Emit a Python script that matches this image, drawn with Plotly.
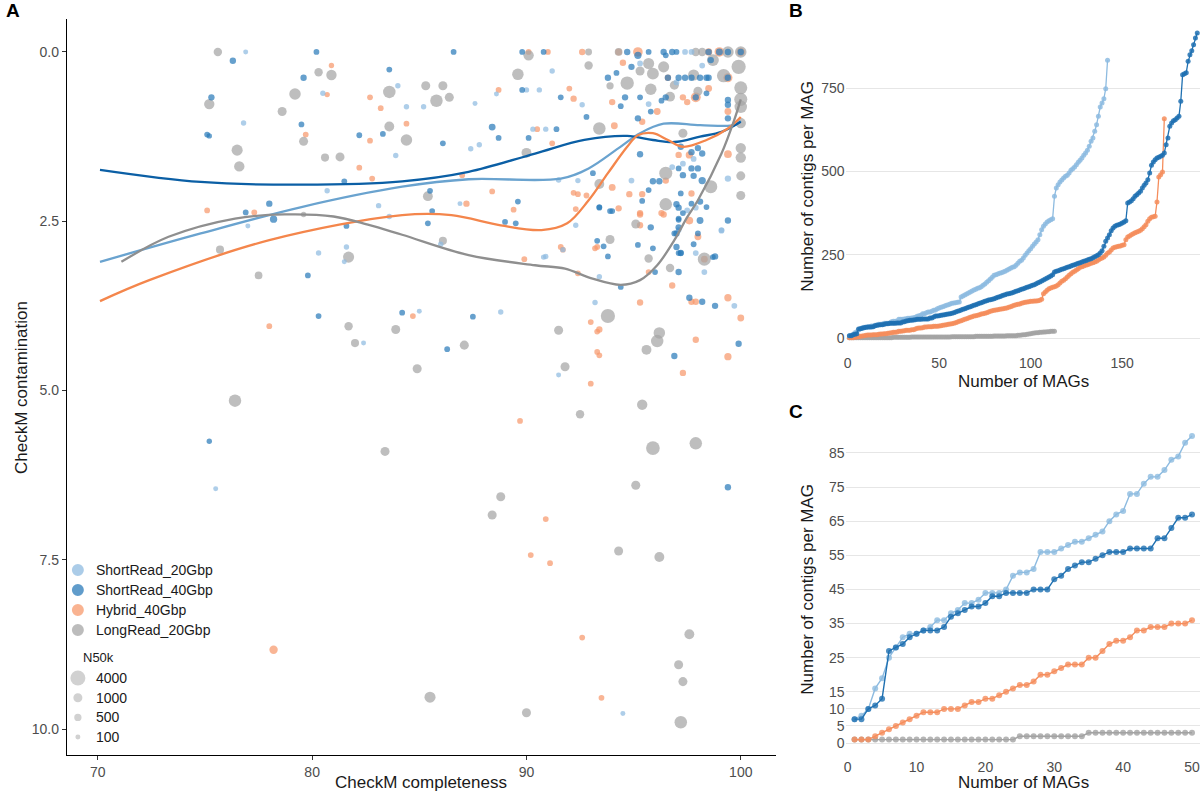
import math
import plotly.graph_objects as go

# ---------------- Panel A data: (completeness, contamination, N50k) ----------------
SR40_PTS = [
    (76.3, 0.13, 300), (80.2, 0.0, 200), (79.6, 0.38, 300), (75.3, 0.67, 300), (79.5, 1.07, 200),
    (75.1, 1.22, 200), (75.2, 1.24, 150), (82.2, 1.23, 200), (83.3, 1.21, 200), (83.6, 0.26, 200),
    (81.5, 1.91, 200), (78.0, 2.24, 300), (76.9, 2.37, 200), (78.2, 2.47, 500), (81.6, 2.57, 200),
    (79.8, 3.3, 200), (86.6, 0.0, 200), (89.8, 0.0, 200), (90.8, 0.0, 200), (94.7, 0.0, 300),
    (95.2, 0.05, 500), (95.7, 0.0, 200), (96.4, 0.0, 300), (96.5, 0.05, 200), (96.8, 0.0, 300),
    (97.0, 0.0, 200), (98.5, 0.0, 300), (99.0, 0.0, 400), (99.4, 0.0, 300), (100.0, 0.0, 300),
    (98.6, 0.12, 300), (93.8, 0.38, 300), (94.2, 0.31, 200), (96.6, 0.38, 300), (97.1, 0.38, 300),
    (97.4, 0.38, 300), (97.7, 0.38, 300), (98.1, 0.38, 300), (98.4, 0.38, 300), (98.5, 0.38, 300),
    (99.4, 0.38, 300), (94.9, 0.22, 300), (96.5, 0.67, 300), (96.3, 0.72, 200), (95.3, 0.67, 200),
    (94.6, 0.67, 300), (94.4, 0.8, 200), (95.8, 0.88, 200), (98.4, 0.61, 200), (99.4, 0.71, 300),
    (99.4, 0.78, 300), (99.4, 0.98, 300), (97.9, 0.67, 300), (95.2, 0.98, 300), (92.8, 0.96, 200),
    (91.6, 0.67, 200), (89.8, 0.56, 200), (86.1, 1.35, 200), (88.4, 1.11, 400), (88.7, 1.27, 200),
    (90.1, 1.27, 200), (91.4, 1.14, 200), (93.1, 1.79, 200), (85.5, 2.05, 200), (89.6, 2.21, 200),
    (85.6, 2.35, 200), (85.4, 2.53, 200), (89.0, 2.51, 200), (89.5, 2.53, 200), (93.4, 2.3, 200),
    (94.0, 2.35, 200), (95.3, 1.51, 300), (95.9, 1.91, 300), (96.2, 1.91, 300), (95.4, 2.2, 200),
    (98.2, 1.9, 500), (99.4, 2.49, 300), (98.7, 3.03, 200), (97.1, 2.46, 200), (97.1, 2.97, 200),
    (97.2, 1.4, 300), (97.7, 1.48, 300), (98.0, 1.42, 300), (98.2, 1.5, 300), (98.0, 1.72, 300),
    (97.7, 1.72, 300), (97.3, 1.82, 300), (97.1, 1.72, 200), (97.8, 1.83, 300), (97.2, 2.09, 200),
    (97.0, 2.25, 300), (97.7, 2.24, 200), (97.3, 2.38, 200), (97.1, 2.48, 200), (96.9, 2.68, 200),
    (97.2, 2.97, 200), (98.4, 2.29, 200), (98.0, 2.68, 200), (97.8, 2.84, 200), (98.1, 2.21, 300),
    (98.1, 2.49, 400), (93.3, 2.79, 200), (93.6, 2.87, 200), (93.8, 3.02, 200), (95.2, 2.85, 200),
    (95.9, 2.9, 200), (96.0, 3.25, 200), (97.0, 2.88, 300), (97.2, 2.97, 300), (97.1, 3.25, 300),
    (98.8, 3.02, 300), (95.8, 2.59, 300), (97.1, 2.59, 300), (97.0, 2.68, 300), (93.4, 2.29, 200),
    (93.9, 2.35, 200), (97.1, 2.3, 300), (95.7, 2.04, 200), (94.4, 3.47, 200), (87.5, 3.91, 200),
    (86.3, 4.39, 200), (97.6, 3.63, 300), (98.2, 3.69, 300), (98.8, 3.75, 300), (99.9, 4.31, 300),
    (96.9, 4.49, 300), (99.4, 6.43, 300), (84.2, 3.85, 200), (80.3, 3.9, 200), (75.2, 5.75, 150),
]

SR20_PTS = [
    (76.9, 0.0, 100), (80.5, 0.61, 150), (76.8, 1.05, 150), (84.0, 0.5, 150), (83.9, 1.53, 150),
    (80.7, 2.05, 150), (77.0, 2.57, 100), (83.1, 2.27, 150), (83.6, 2.43, 150), (80.3, 2.97, 150),
    (81.6, 2.88, 150), (81.5, 3.1, 100), (97.4, 0.0, 200), (97.7, 0.0, 200), (95.3, 0.17, 200),
    (91.2, 0.28, 150), (92.6, 0.78, 150), (90.6, 0.56, 150), (90.0, 0.56, 150), (88.6, 0.62, 100),
    (84.4, 0.81, 150), (85.2, 0.81, 150), (87.6, 0.76, 100), (87.8, 1.37, 150), (87.4, 1.43, 150),
    (90.3, 1.14, 150), (90.9, 1.14, 150), (91.5, 1.89, 150), (86.9, 2.24, 100), (92.3, 2.56, 150),
    (86.0, 2.84, 150), (90.8, 3.03, 150), (92.4, 1.9, 150), (94.9, 1.9, 200), (95.7, 0.77, 200),
    (96.8, 1.7, 200), (97.3, 1.65, 200), (97.5, 2.34, 200), (97.1, 2.63, 200), (99.1, 2.63, 200),
    (97.8, 1.58, 200), (99.4, 1.87, 300), (97.0, 0.45, 200), (98.2, 0.2, 200), (85.0, 3.83, 100),
    (88.8, 3.84, 150), (91.5, 4.77, 100), (93.2, 3.7, 150), (99.7, 3.75, 200), (90.9, 3.02, 150),
    (91.7, 2.92, 150), (93.4, 3.32, 150), (98.3, 3.25, 200), (99.1, 2.64, 200), (97.9, 2.3, 200),
    (97.9, 2.97, 200), (94.5, 9.77, 100), (82.4, 4.3, 100), (75.5, 6.45, 100),
]

HY_PTS = [
    (80.9, 0.2, 150), (80.7, 0.63, 150), (79.7, 1.22, 200), (82.2, 1.71, 200), (82.8, 1.87, 200),
    (82.7, 1.31, 200), (82.7, 0.67, 200), (83.2, 0.83, 200), (75.1, 2.34, 200), (77.3, 2.37, 200),
    (90.1, 0.0, 200), (91.0, 0.0, 200), (92.6, 0.0, 300), (94.3, 0.0, 400), (95.2, 0.0, 1200),
    (98.5, 0.0, 500), (99.0, 0.0, 1200), (100.0, 0.0, 800), (96.6, 0.38, 300), (99.4, 0.38, 1000),
    (94.5, 0.16, 300), (97.9, 0.67, 1300), (96.1, 0.88, 400), (94.0, 0.74, 300), (97.3, 0.67, 300),
    (97.5, 0.74, 300), (98.5, 0.54, 400), (99.4, 0.88, 400), (94.1, 1.09, 400), (95.4, 1.03, 300),
    (92.0, 0.54, 200), (92.2, 0.69, 300), (88.7, 0.56, 200), (84.4, 1.06, 200), (90.5, 1.14, 200),
    (91.2, 1.35, 200), (87.0, 1.82, 200), (88.4, 2.06, 200), (87.2, 2.24, 300), (89.4, 2.33, 200),
    (89.9, 3.06, 200), (91.7, 2.92, 200), (92.4, 2.1, 200), (92.8, 2.12, 200), (92.2, 2.08, 200),
    (94.0, 2.0, 400), (94.8, 2.1, 300), (95.4, 2.1, 300), (95.3, 2.38, 300), (96.5, 1.9, 300),
    (96.3, 2.38, 300), (95.3, 2.56, 300), (99.4, 1.51, 600), (98.3, 3.06, 400), (97.1, 1.52, 300),
    (97.6, 1.52, 500), (97.7, 2.09, 300), (98.0, 2.73, 400), (97.6, 2.49, 600), (92.3, 2.32, 200),
    (91.6, 2.88, 200), (93.2, 2.9, 200), (93.3, 2.88, 200), (92.4, 3.27, 200), (95.7, 3.25, 200),
    (96.4, 2.4, 300), (95.3, 2.4, 300), (94.3, 2.31, 300), (84.7, 3.9, 200), (93.0, 3.99, 200),
    (93.3, 4.13, 200), (93.3, 4.43, 200), (93.4, 4.48, 200), (93.0, 4.9, 200), (95.3, 3.7, 300),
    (96.8, 3.45, 300), (97.7, 3.69, 300), (97.9, 3.69, 300), (99.4, 3.63, 500), (100.0, 3.93, 400),
    (97.9, 4.25, 300), (99.4, 4.5, 500), (97.3, 4.74, 300), (89.7, 5.45, 200), (90.9, 6.9, 200),
    (90.2, 7.43, 200), (91.1, 7.55, 200), (93.4, 4.1, 300), (78.2, 8.83, 800), (93.5, 9.54, 200),
    (92.6, 8.65, 200), (78.0, 4.05, 200),
]

LR_PTS = [
    (75.6, 0.0, 800), (80.3, 0.3, 800), (80.9, 0.34, 1500), (79.2, 0.62, 2000), (75.2, 0.77, 1500),
    (78.6, 0.88, 1000), (79.6, 1.32, 1000), (76.5, 1.45, 1800), (76.6, 1.69, 1500), (80.6, 1.56, 700),
    (81.3, 1.55, 1000), (83.6, 1.1, 1300), (83.6, 0.59, 2500), (79.6, 2.4, 150), (75.7, 2.92, 700),
    (81.7, 3.03, 1800), (77.5, 3.3, 600), (90.1, 0.05, 1500), (92.9, 0.0, 400), (94.3, 0.0, 600),
    (97.9, 0.0, 800), (98.2, 0.0, 800), (99.4, 0.0, 2000), (100.0, 0.0, 2000), (98.7, 0.12, 2200),
    (99.9, 0.22, 3500), (99.2, 0.35, 3000), (93.9, 0.5, 500), (94.7, 0.46, 3000), (96.9, 0.49, 1000),
    (97.8, 0.34, 1800), (95.7, 0.17, 1800), (95.9, 0.32, 2200), (96.4, 0.22, 1800), (95.3, 0.28, 1000),
    (98.0, 0.58, 1000), (95.8, 0.55, 2000), (96.7, 0.66, 1300), (100.0, 0.53, 2800), (100.0, 0.7, 2800),
    (100.0, 0.81, 2500), (100.0, 1.05, 1500), (93.4, 1.13, 2500), (92.9, 0.2, 800), (89.6, 0.33, 2000),
    (85.3, 0.5, 1000), (86.1, 0.5, 1000), (85.8, 0.72, 2500), (86.4, 0.67, 1000), (84.4, 1.3, 2000),
    (90.0, 1.49, 1300), (85.4, 2.13, 1300), (86.1, 2.79, 700), (93.9, 2.77, 1000), (93.4, 1.95, 1300),
    (96.5, 1.79, 2800), (96.5, 2.25, 2500), (95.1, 2.54, 1000), (98.6, 1.99, 2800), (100.0, 1.42, 1500),
    (100.0, 1.56, 1500), (100.0, 1.83, 1000), (100.0, 2.12, 1000), (98.3, 3.06, 2800), (95.7, 3.05, 800),
    (96.7, 3.19, 800), (97.3, 1.2, 1000), (87.1, 4.33, 1000), (84.9, 4.68, 1000), (91.5, 4.11, 1000),
    (91.8, 4.65, 1000), (93.8, 3.9, 3500), (96.2, 4.15, 2000), (96.1, 4.27, 2500), (95.6, 4.4, 1300),
    (95.4, 5.21, 1500), (92.5, 5.35, 800), (95.9, 5.85, 3200), (97.9, 5.78, 2500), (95.1, 6.4, 1000),
    (88.8, 6.57, 1000), (88.4, 6.84, 1000), (94.3, 7.37, 1000), (96.2, 7.46, 1300), (85.5, 9.53, 1800),
    (90.0, 9.76, 1000), (97.2, 9.9, 2500), (97.6, 8.6, 1300), (97.1, 9.05, 1000), (97.3, 9.3, 1000),
    (76.4, 5.15, 2500), (83.4, 5.9, 1000), (81.7, 4.05, 800), (83.9, 4.1, 1000), (82.0, 4.3, 700),
]

# Smoothed trend lines
SM_SR20_X = [70.1, 74.8, 79.5, 84.2, 87.3, 91.6, 92.9, 94.3, 95.3, 96.4, 98.1, 99.7, 100.0]
SM_SR20_Y = [3.1, 2.68, 2.29, 1.99, 1.88, 1.87, 1.72, 1.42, 1.2, 1.06, 1.08, 1.08, 1.02]
SM_SR40_X = [70.1, 74.8, 79.5, 84.2, 87.3, 90.4, 92.7, 94.7, 95.9, 96.9, 98.1, 99.1, 100.0]
SM_SR40_Y = [1.74, 1.92, 1.96, 1.91, 1.77, 1.5, 1.3, 1.24, 1.3, 1.33, 1.25, 1.18, 1.03]
SM_HY_X = [70.1, 72.4, 78.0, 84.2, 86.5, 88.8, 90.7, 91.9, 92.9, 93.8, 94.7, 95.2, 95.9, 96.6, 97.3, 98.4, 99.4, 100.0]
SM_HY_Y = [3.68, 3.37, 2.78, 2.41, 2.41, 2.56, 2.63, 2.53, 2.19, 1.79, 1.4, 1.23, 1.2, 1.3, 1.4, 1.3, 1.13, 0.96]
SM_LR_X = [71.1, 73.3, 76.4, 78.7, 81.0, 82.6, 84.2, 87.3, 90.4, 91.8, 93.0, 94.4, 95.3, 96.1, 96.9, 97.5, 98.0, 99.1, 99.7, 100.0]
SM_LR_Y = [3.1, 2.73, 2.46, 2.4, 2.43, 2.55, 2.7, 3.0, 3.15, 3.2, 3.34, 3.44, 3.37, 3.15, 2.78, 2.44, 2.19, 1.5, 1.0, 0.7]

# ---------------- Panels B / C data: contigs per MAG (sorted) ----------------
C_SR20 = [7, 8, 10, 16, 19, 25, 28, 31, 32, 32, 33, 34, 36, 36, 38, 39, 41, 41, 42, 44,
          44, 44, 45, 49, 50, 50, 51, 56, 56, 56, 57, 58, 59, 59, 60, 61, 62, 65, 67, 68,
          73, 73, 76, 78, 78, 80, 83, 84, 88, 90]
C_SR40 = [7, 7, 10, 11, 13, 27, 28, 29, 31, 32, 33, 33, 33, 34, 37, 38, 39, 40, 40, 41,
          43, 43, 44, 44, 44, 44, 45, 45, 45, 48, 49, 51, 52, 53, 53, 54, 55, 56, 56, 56,
          57, 57, 57, 57, 60, 60, 63, 66, 66, 67]
C_HY = [1, 1, 1, 2, 3, 4, 5, 6, 7, 8, 9, 9, 9, 10, 10, 10, 11, 12, 12, 13,
        13, 14, 15, 16, 17, 17, 18, 20, 20, 21, 22, 23, 23, 23, 25, 25, 27, 29, 30, 30,
        31, 33, 33, 34, 34, 34, 35, 35, 35, 36]
C_LR = [1, 1, 1, 1, 1, 1, 1, 1, 1, 1, 1, 1, 1, 1, 1, 1, 1, 1, 1, 1,
        1, 1, 1, 1, 2, 2, 2, 2, 2, 2, 2, 2, 2, 2, 3, 3, 3, 3, 3, 3,
        3, 3, 3, 3, 3, 3, 3, 3, 3, 3]

SR20_REST = [92, 94, 96, 98, 100, 102, 104, 105, 106, 107, 108,
             123, 126, 129, 132, 135, 138, 141, 144, 146, 149, 151, 154, 158, 162, 167, 172, 177,
             182, 188, 190, 192, 194, 196, 198, 200, 203, 206, 209, 212, 214, 218, 224, 230,
             233, 240, 248, 255, 262, 268, 275, 282, 288, 295, 310, 325, 335, 342, 348, 352, 355,
             358, 425, 450, 460, 468, 474, 480, 485, 488, 495, 503, 508, 513, 520, 527, 533, 540,
             548, 555, 563, 575, 590, 600, 620, 640, 665, 693, 705, 718, 748, 833]
SR40_REST = [68, 69, 70, 71, 72, 73, 74, 76, 78, 80, 82, 84, 86, 88, 90, 92, 94, 96, 98, 100,
             102, 104, 106, 108, 110, 112, 114, 115, 116, 118, 120, 122, 124, 126, 128, 130, 132,
             133, 134, 136, 138, 140, 142, 144, 146, 148, 150, 152, 154, 156, 158, 160, 163, 166,
             168, 171, 174, 177, 180, 183, 186, 190,
             198, 200, 202, 204, 206, 208, 210, 212, 214, 216, 218, 220, 222, 224, 226, 228, 230,
             232, 234, 236, 238, 241, 244, 247, 250, 255, 262, 275, 290, 300, 310, 322, 330, 335,
             338, 340, 342, 345, 348, 352, 405, 408, 412, 418, 425, 430, 435, 440, 450, 458, 465,
             475, 495, 518, 528, 535, 540, 542, 545, 548, 555, 580, 600, 635, 645, 652, 655, 660,
             665, 710, 790, 793, 796, 830, 850, 862, 880, 900, 915]
HY_REST = [37, 38, 39, 40, 41, 42, 43, 44, 46, 48, 50, 52, 54, 56, 58, 60, 62, 64, 66, 67,
           68, 70, 72, 73, 74, 76, 78, 80, 82, 83, 84, 85, 86, 87, 88, 89, 90, 92, 94, 96,
           98, 100, 101, 102, 104, 106, 107, 108, 109, 110, 110, 111, 111, 112,
           113, 116, 133, 138, 143, 148, 150, 152, 154, 156, 160, 165, 170, 173, 178, 183, 188,
           193, 197, 200, 204, 208, 212, 214, 216, 218, 220, 222, 224, 226, 228, 230, 234, 238,
           240, 243, 248, 254, 258, 264, 270, 272, 274, 275, 276, 278, 280, 295, 303, 306, 310,
           313, 316, 318, 320, 323, 328, 334, 340, 350, 358, 362, 364, 365, 408, 483, 490, 498, 658]
LR_REST = [3, 3, 3, 3, 3, 3, 4, 4, 4, 4, 4, 4, 4, 4, 4, 4, 4, 4, 4, 5,
           5, 5, 5, 5, 5, 5, 5, 5, 5, 6, 6, 6, 6, 6, 6, 6, 7, 7, 7, 7,
           7, 7, 8, 8, 9, 10, 10, 11, 12, 13, 14, 15, 16, 16, 17, 17, 18, 18, 19, 19,
           20, 20, 20]

SERIES = ["ShortRead_20Gbp", "ShortRead_40Gbp", "Hybrid_40Gbp", "LongRead_20Gbp"]
SIZE_BREAKS = [4000, 1000, 500, 100]

PT_COL = {"SR20": "#8fbbe0", "SR40": "#2b7bba", "HY": "#f7996c", "LR": "#a5a5a5"}
SM_COL = {"SR20": "#6aa3cf", "SR40": "#0b5fa5", "HY": "#f4864c", "LR": "#8f8f8f"}
BC_COL = {"SR20": "#8dbbe0", "SR40": "#1f70b1", "HY": "#f58d5c", "LR": "#a3a3a3"}
FONT = "Liberation Sans, Arial, sans-serif"


def n50_px(v):
    return 3.1 + 0.188 * math.sqrt(v)


fig = go.Figure()

# Panel A points
for key, pts in [("HY", HY_PTS), ("LR", LR_PTS), ("SR20", SR20_PTS), ("SR40", SR40_PTS)]:
    fig.add_trace(go.Scatter(
        x=[p[0] for p in pts], y=[p[1] for p in pts], mode="markers",
        marker=dict(size=[n50_px(p[2]) for p in pts], color=PT_COL[key], opacity=0.72,
                    line=dict(width=0)),
        xaxis="x", yaxis="y", hoverinfo="skip"))

# Panel A smooth lines
for key, xs, ys in [("SR20", SM_SR20_X, SM_SR20_Y), ("SR40", SM_SR40_X, SM_SR40_Y),
                    ("HY", SM_HY_X, SM_HY_Y), ("LR", SM_LR_X, SM_LR_Y)]:
    fig.add_trace(go.Scatter(x=xs, y=ys, mode="lines",
                             line=dict(color=SM_COL[key], width=2.3, shape="spline", smoothing=1.0),
                             xaxis="x", yaxis="y", hoverinfo="skip"))

# Panel B
B_DATA = [("LR", C_LR + LR_REST), ("HY", C_HY + HY_REST),
          ("SR20", C_SR20 + SR20_REST), ("SR40", C_SR40 + SR40_REST)]
for key, vals in B_DATA:
    fig.add_trace(go.Scatter(
        x=list(range(1, len(vals) + 1)), y=vals, mode="lines+markers",
        line=dict(color=BC_COL[key], width=1.3),
        marker=dict(size=5, color=BC_COL[key], opacity=0.85),
        xaxis="x2", yaxis="y2", hoverinfo="skip", cliponaxis=False))

# Panel C
for key, vals in [("LR", C_LR), ("HY", C_HY), ("SR20", C_SR20), ("SR40", C_SR40)]:
    fig.add_trace(go.Scatter(
        x=list(range(1, len(vals) + 1)), y=vals, mode="lines+markers",
        line=dict(color=BC_COL[key], width=1.4),
        marker=dict(size=6, color=BC_COL[key], opacity=0.8),
        xaxis="x3", yaxis="y3", hoverinfo="skip", cliponaxis=False))

W, H = 1200, 792


def px(x):
    return x / W


def py(y):
    return 1 - y / H


tickfont = dict(family=FONT, size=14, color="#4d4d4d")
titlefont = dict(family=FONT, size=17, color="#1a1a1a")

annotations = []
shapes = []

# panel letters
for txt, x, y in [("A", 2, 10), ("B", 786, 10), ("C", 786, 411)]:
    annotations.append(dict(text="<b>%s</b>" % txt, x=px(x), y=py(y), xref="paper", yref="paper",
                            xanchor="left", yanchor="middle", showarrow=False,
                            font=dict(family=FONT, size=19, color="black")))

# axis titles
for txt, x, y, ang in [("CheckM completeness", 420, 782, 0), ("CheckM contamination", 19, 387, -90),
                       ("Number of MAGs", 1023, 381, 0), ("Number of contigs per MAG", 806, 186, -90),
                       ("Number of MAGs", 1023, 782, 0), ("Number of contigs per MAG", 806, 589, -90)]:
    annotations.append(dict(text=txt, x=px(x), y=py(y), xref="paper", yref="paper",
                            xanchor="center", yanchor="middle", showarrow=False, textangle=ang,
                            font=titlefont))

# legend in panel A
LEG_COL = [PT_COL["SR20"], PT_COL["SR40"], PT_COL["HY"], PT_COL["LR"]]
for i, (name, col) in enumerate(zip(SERIES, LEG_COL)):
    cy = 570 + 20 * i
    r = 6
    shapes.append(dict(type="circle", xref="paper", yref="paper", x0=px(76 - r), x1=px(76 + r),
                       y0=py(cy + r), y1=py(cy - r), fillcolor=col, opacity=0.75, line=dict(width=0)))
    annotations.append(dict(text=name, x=px(92), y=py(cy), xref="paper", yref="paper",
                            xanchor="left", yanchor="middle", showarrow=False,
                            font=dict(family=FONT, size=14, color="#1a1a1a")))
annotations.append(dict(text="N50k", x=px(79), y=py(657), xref="paper", yref="paper",
                        xanchor="left", yanchor="middle", showarrow=False,
                        font=dict(family=FONT, size=13, color="#1a1a1a")))
for i, v in enumerate(SIZE_BREAKS):
    cy = 678 + 19.7 * i
    r = n50_px(v) / 2
    shapes.append(dict(type="circle", xref="paper", yref="paper", x0=px(76 - r), x1=px(76 + r),
                       y0=py(cy + r), y1=py(cy - r), fillcolor="#bdbdbd", opacity=0.7, line=dict(width=0)))
    annotations.append(dict(text=str(v), x=px(92), y=py(cy), xref="paper", yref="paper",
                            xanchor="left", yanchor="middle", showarrow=False,
                            font=dict(family=FONT, size=14, color="#1a1a1a")))

fig.update_layout(
    width=W, height=H, margin=dict(l=0, r=0, t=0, b=0),
    paper_bgcolor="white", plot_bgcolor="white", showlegend=False,
    xaxis=dict(domain=[px(65), px(775)], range=[68.556, 101.63], tickvals=[70, 80, 90, 100],
               showline=True, linecolor="black", linewidth=1.2, ticks="outside", ticklen=4,
               tickcolor="#333333", tickfont=tickfont, showgrid=False, zeroline=False, anchor="y"),
    yaxis=dict(domain=[py(755), py(19)], range=[10.384, -0.487], tickvals=[0, 2.5, 5, 7.5, 10],
               ticktext=["0.0", "2.5", "5.0", "7.5", "10.0"],
               showline=True, linecolor="black", linewidth=1.2, ticks="outside", ticklen=4,
               tickcolor="#333333", tickfont=tickfont, showgrid=False, zeroline=False, anchor="x"),
    xaxis2=dict(domain=[px(845), 1.0], range=[-1.1, 192.5], tickvals=[0, 50, 100, 150],
                showline=False, ticks="", tickfont=tickfont, showgrid=False, zeroline=False,
                anchor="y2", ticklabeloverflow="allow"),
    yaxis2=dict(domain=[py(353), py(15)], range=[-45, 969], tickvals=[0, 250, 500, 750],
                showline=False, ticks="", tickfont=tickfont, showgrid=True, gridcolor="#e6e6e6",
                gridwidth=1, zeroline=False, anchor="x2"),
    xaxis3=dict(domain=[px(845), 1.0], range=[-0.3, 51.16], tickvals=[0, 10, 20, 30, 40, 50],
                showline=False, ticks="", tickfont=tickfont, showgrid=False, zeroline=False,
                anchor="y3", ticklabeloverflow="allow"),
    yaxis3=dict(domain=[py(757), py(425)], range=[-4.1, 93.2],
                tickvals=[0, 5, 10, 15, 25, 35, 45, 55, 65, 75, 85],
                showline=False, ticks="", tickfont=tickfont, showgrid=True, gridcolor="#e6e6e6",
                gridwidth=1, zeroline=False, anchor="x3"),
    annotations=annotations, shapes=shapes,
)

# remove the default page margin so the 1200x792 figure fills the window exactly
fig.write_html("out.html", config={"displayModeBar": False},
               post_script="document.body.style.margin='0px';document.body.style.overflow='hidden';")
